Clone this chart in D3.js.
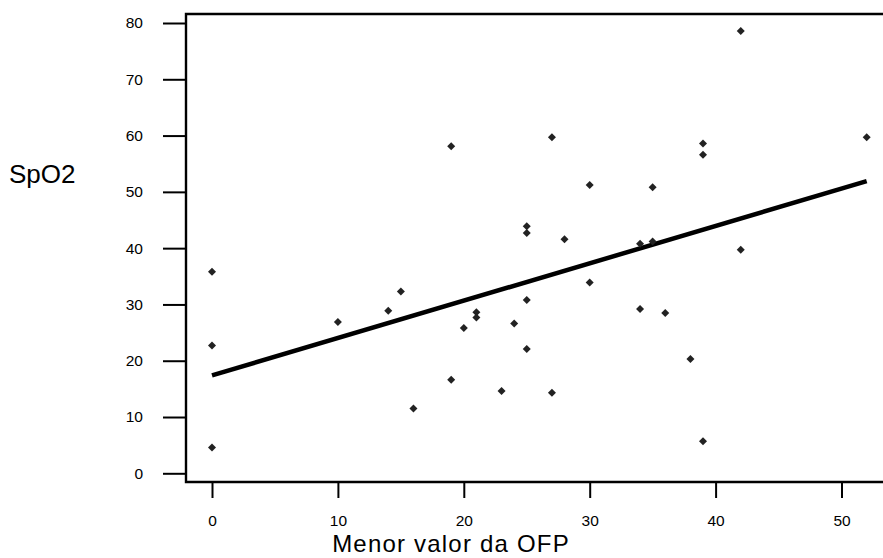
<!DOCTYPE html>
<html>
<head>
<meta charset="utf-8">
<script src="https://cdn.jsdelivr.net/npm/d3@7"></script>
<style>
  body { margin: 0; background: #fff; }
  svg { display: block; font-family: "Liberation Sans", Arial, sans-serif; }
</style>
</head>
<body>
<svg width="883" height="558"></svg>
<script>
let ofp = [0,0,0,10,14,15,16,19,19,20,21,21,23,24,25,25,25,25,27,27,28,30,30,34,34,35,35,36,38,39,39,39,42,42,52]
let spo2 = [35.8,22.7,4.6,26.9,28.9,32.3,11.5,58.1,16.6,25.8,28.6,27.7,14.6,26.6,43.9,42.7,30.8,22.1,59.7,14.3,41.6,51.2,33.9,40.8,29.2,50.8,41.2,28.5,20.3,58.6,56.6,5.7,78.6,39.7,59.7]
let fitX = [0, 52]
let fitY = [17.4, 51.9]
let xTicks = [0, 10, 20, 30, 40, 50]
let yTicks = [0, 10, 20, 30, 40, 50, 60, 70, 80]

let svg = d3.select('svg')

let frameL = 186, frameT = 14, frameR = 883, frameB = 482

let x = d3.scaleLinear()
    .domain([0, 50])
    .range([212, 841.5])

let y = d3.scaleLinear()
    .domain([0, 80])
    .range([473.3, 23])

// frame (no right side, runs off the edge)
svg.append('path')
    .attr('d', `M${frameR},${frameT}H${frameL}V${frameB}H${frameR}`)
    .attr('fill', 'none')
    .attr('stroke', '#000')
    .attr('stroke-width', 2.4)

let yAxis = svg.append('g')
    .attr('transform', `translate(${frameL},0)`)
    .call(d3.axisLeft(y).tickValues(yTicks).tickSize(23).tickPadding(20).tickSizeOuter(0))
yAxis.select('.domain').remove()
yAxis.selectAll('line').attr('stroke-width', 2)
yAxis.selectAll('text').attr('font-size', 15.5).attr('fill', '#000')
    .attr('font-family', '"Liberation Sans", Arial, sans-serif')

let xAxis = svg.append('g')
    .attr('transform', `translate(0,${frameB})`)
    .call(d3.axisBottom(x).tickValues(xTicks).tickSize(16).tickPadding(17).tickSizeOuter(0))
xAxis.select('.domain').remove()
xAxis.selectAll('line').attr('stroke-width', 2)
xAxis.selectAll('text').attr('font-size', 15.5).attr('fill', '#000')
    .attr('font-family', '"Liberation Sans", Arial, sans-serif')

// regression line
let line = d3.line()
    .x(d => x(d[0]))
    .y(d => y(d[1]))

svg.append('path')
    .datum(d3.zip(fitX, fitY))
    .attr('d', line)
    .attr('fill', 'none')
    .attr('stroke', '#000')
    .attr('stroke-width', 4.5)

// points
let sym = d3.symbol().type(d3.symbolSquare).size(32)
svg.selectAll('.pt')
    .data(d3.zip(ofp, spo2))
    .enter().append('path')
    .attr('class', 'pt')
    .attr('d', sym)
    .attr('transform', d => `translate(${x(d[0])},${y(d[1])}) rotate(45)`)
    .attr('fill', '#222')

svg.append('text')
    .attr('x', 9)
    .attr('y', 183)
    .attr('font-size', 26)
    .text('SpO2')

svg.append('text')
    .attr('x', 451)
    .attr('y', 552)
    .attr('text-anchor', 'middle')
    .attr('font-size', 24)
    .attr('letter-spacing', 1.2)
    .text('Menor valor da OFP')
</script>
</body>
</html>
